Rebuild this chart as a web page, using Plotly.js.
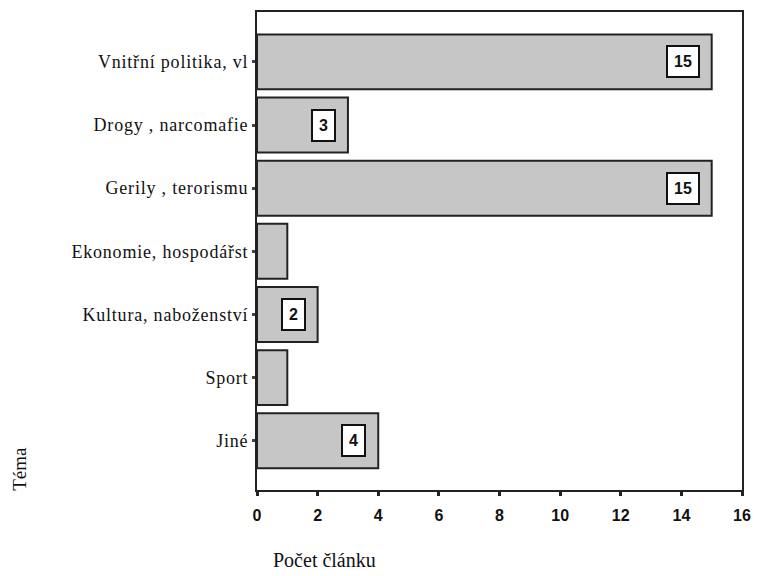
<!DOCTYPE html>
<html><head><meta charset="utf-8">
<script src="https://cdn.plot.ly/plotly-3.0.1.min.js"></script>
<style>body{margin:0;background:#fff}#c{width:759px;height:576px}
#c .ytick text{letter-spacing:0.8px}</style>
</head><body><div id="c"></div>
<script>
const categories = ["Vnitřní politika, vl", "Drogy , narcomafie", "Gerily , terorismu", "Ekonomie, hospodářst", "Kultura, naboženství", "Sport", "Jiné"];
const counts = [15, 3, 15, 1, 2, 1, 4];
const labelled = [true, true, true, false, true, false, true];
const xTicks = [0, 2, 4, 6, 8, 10, 12, 14, 16];

const annotations = [];
categories.forEach((c, i) => {
  if (labelled[i]) annotations.push({
    x: counts[i], y: c, xref: 'x', yref: 'y', text: String(counts[i]),
    showarrow: false, xanchor: 'right', xshift: -12,
    font: {family: 'Liberation Sans, Arial, sans-serif', size: 16, color: '#111', weight: 'bold'},
    bgcolor: '#ffffff', bordercolor: '#111', borderwidth: 2, borderpad: 6
  });
});
annotations.push({text: 'Počet článku', xref: 'paper', yref: 'paper', x: 0.028, y: -0.146,
  xanchor: 'left', yanchor: 'middle', showarrow: false,
  font: {family: 'Liberation Serif, Times New Roman, serif', size: 20, color: '#111'}});
annotations.push({text: 'Téma', xref: 'paper', yref: 'paper', x: -0.49, y: -0.005,
  xanchor: 'center', yanchor: 'bottom', textangle: -90, showarrow: false,
  font: {family: 'Liberation Serif, Times New Roman, serif', size: 19, color: '#111'}});

Plotly.newPlot('c', [{
  type: 'bar', orientation: 'h', x: counts, y: categories, width: 0.87,
  marker: {color: '#c6c6c6', line: {color: '#222', width: 2}},
  hoverinfo: 'none'
}], {
  width: 759, height: 576,
  margin: {l: 257, r: 17, t: 12, b: 86},
  paper_bgcolor: '#ffffff', plot_bgcolor: '#ffffff',
  showlegend: false,
  xaxis: {range: [0, 16], tickvals: xTicks, ticktext: xTicks.map(String),
    showgrid: false, zeroline: false, showline: true, mirror: true,
    linecolor: '#222', linewidth: 2, ticks: 'outside', ticklen: 4, tickwidth: 3, tickcolor: '#222',
    ticklabelstandoff: 6,
    tickfont: {family: 'Liberation Sans, Arial, sans-serif', size: 16, color: '#111', weight: 'bold'}},
  yaxis: {type: 'category', categoryorder: 'array', categoryarray: categories,
    range: [6.78, -0.79], showgrid: false, zeroline: false, showline: true, mirror: true,
    linecolor: '#222', linewidth: 2, ticks: 'outside', ticklen: 3, tickwidth: 3, tickcolor: '#444',
    tickfont: {family: 'Liberation Serif, Times New Roman, serif', size: 18, color: '#111'}},
  annotations: annotations
}, {staticPlot: true});
</script></body></html>
